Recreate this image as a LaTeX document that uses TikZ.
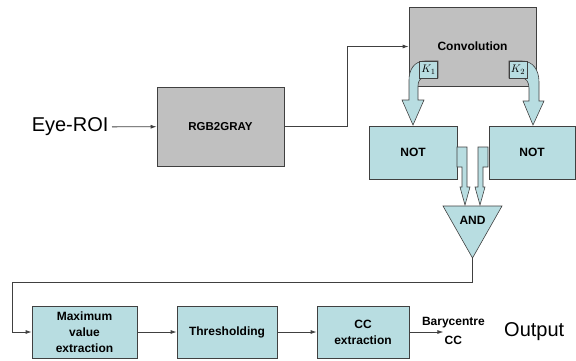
\documentclass[tikz,border=0pt]{standalone}
\usepackage{fontspec}
\setmainfont{Liberation Sans}
\usepackage{xcolor}
\usetikzlibrary{
    positioning,
    arrows.meta
}
\definecolor{boxgray}{HTML}{C0C0C0}
\definecolor{boxteal}{HTML}{B8DDE1}
\definecolor{edge}{HTML}{404040}

\begin{document}
\begin{tikzpicture}[
        x=1pt, y=-1pt,
        box/.style={draw=edge, line width=0.8pt, align=center, inner sep=1pt,
          font=\bfseries\fontsize{12}{16}\selectfont},
        graybox/.style={box, fill=boxgray, minimum width=127pt, minimum height=79pt},
        tealbox/.style={box, fill=boxteal, minimum height=52pt},
        klabel/.style={draw=edge, line width=0.6pt, fill=boxteal, inner sep=0pt,
          minimum width=18pt, minimum height=17pt, font=\fontsize{11}{12}\selectfont},
        blockarrow/.style={draw=edge, line width=0.6pt, fill=boxteal},
        link/.style={draw=edge, line width=0.8pt, -{Latex[length=6pt,width=4pt]}},
        plain/.style={font=\fontsize{20}{24}\selectfont},
        lbl/.style={font=\bfseries\fontsize{12}{14}\selectfont, inner sep=0pt}
      ]
      \useasboundingbox (0,0) rectangle (576,360);

      \node[graybox] (conv) at (472.5,46.5) {Convolution};
      \node[graybox, font=\bfseries\fontsize{11.5}{14}\selectfont] (gray) at (220.5,126.5) {RGB2GRAY};
      \node[tealbox, minimum width=88pt, minimum height=53pt] (notl) at (413,152.5) {NOT};
      \node[tealbox, minimum width=86pt, minimum height=53pt] (notr) at (532,152.5) {NOT};
      \node[tealbox, minimum width=105pt] (maxv) at (84.5,332) {Maximum\\value\\extraction};
      \node[tealbox, minimum width=100pt] (thr) at (227,332) {Thresholding};
      \node[tealbox, minimum width=92pt] (ccext) at (363,332) {CC\\extraction};

      \node[plain, anchor=east] (roi) at (112,127) {Eye-ROI};
      \node[plain, anchor=west, inner sep=0pt] (result) at (504,332) {Output};

      % curved arrows out of the convolution
      \path[blockarrow] (438,61) -- (425,61) .. controls (414,61) and (409,70) .. (409,80)
        -- (409,100) -- (402,100) -- (413,125) -- (424,100) -- (418,100) -- (418,86)
        .. controls (418,81) and (420,78) .. (424,78) -- (438,78) -- cycle;
      \path[blockarrow] (509,61) -- (522,61) .. controls (533,61) and (539,70) .. (539,82)
        -- (539,101) -- (544,101) -- (533,125) -- (523,101) -- (529,101) -- (529,88)
        .. controls (529,82) and (526,78) .. (522,78) -- (509,78) -- cycle;
      \node[klabel] (k1) at (428.5,69.5) {$K_1$};
      \node[klabel] (k2) at (518,69.5) {$K_2$};

      % arrows into the AND
      \path[blockarrow] (457,147) -- (467,147) -- (467,187) -- (470,187) -- (465,205)
        -- (460,187) -- (462,187) -- (462,167) -- (457,167) -- cycle;
      \path[blockarrow] (488,147) -- (478,147) -- (478,187) -- (475,187) -- (480,205)
        -- (485,187) -- (483,187) -- (483,167) -- (488,167) -- cycle;

      \path[blockarrow] (443,206) -- (502,206) -- (472.5,258) coordinate (andtip) -- cycle;
      \node[box, draw=none, inner sep=0pt] (and) at (472.5,220) {AND};

      \coordinate (turn) at (12,282);
      \draw[link] (roi) -- (gray);
      \draw[link] (gray.east) -- ++(63,0) |- (conv.west);
      \draw[link] (andtip) |- (turn) |- (maxv.west);
      \draw[link] (maxv) -- (thr);
      \draw[link] (thr) -- (ccext);
      \draw[link] (ccext.east) -- ++(34,0) coordinate (baryend)
        node[lbl, pos=1, above=4pt, xshift=10pt] (bary) {Barycentre}
        node[lbl, pos=1, below=4pt, xshift=10pt] (barycc) {CC};
    \end{tikzpicture}
\end{document}
